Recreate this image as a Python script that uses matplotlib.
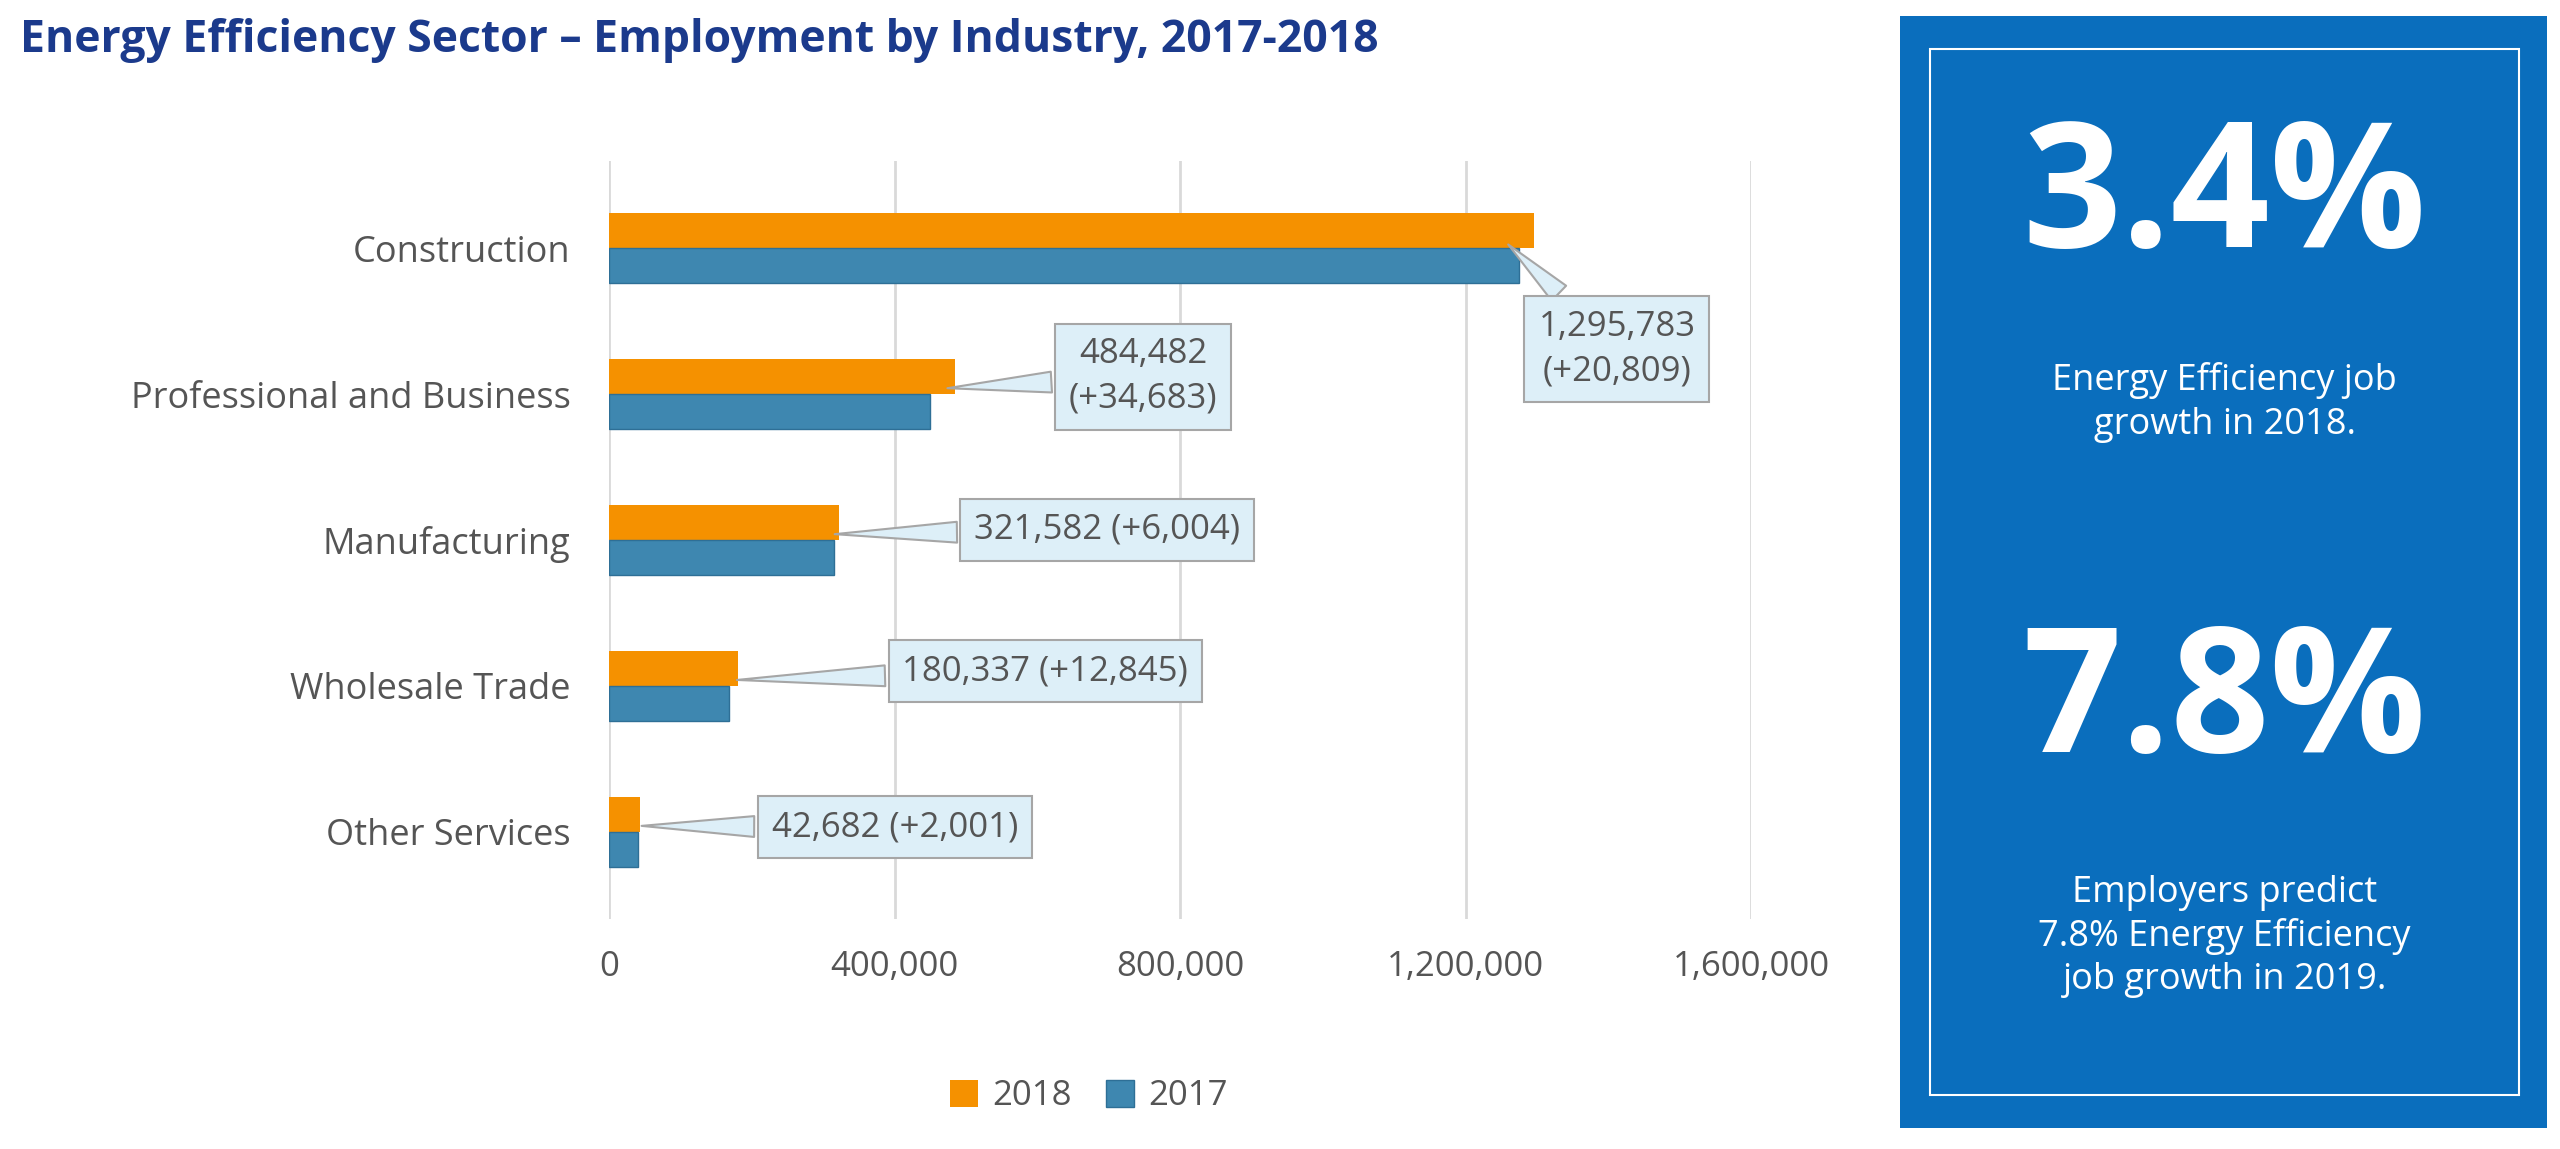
import numpy as np
import matplotlib.pyplot as plt
from matplotlib.patches import Rectangle

plt.rcParams['font.family'] = ['Open Sans', 'DejaVu Sans']

industries = ["Construction", "Professional and Business", "Manufacturing",
              "Wholesale Trade", "Other Services"]
jobs_2018 = [1295783, 484482, 321582, 180337, 42682]
growth = [20809, 34683, 6004, 12845, 2001]
jobs_2017 = [a - b for a, b in zip(jobs_2018, growth)]
labels = ["1,295,783\n(+20,809)", "484,482\n(+34,683)", "321,582 (+6,004)",
          "180,337 (+12,845)", "42,682 (+2,001)"]
box_pos = [(1412000, 0.69), (748000, 0.88), (698000, 1.93), (611000, 2.9), (400000, 3.97)]
xticks = [0, 400000, 800000, 1200000, 1600000]

orange = "#F59100"
blue = "#3E87B0"
txt = "#555555"

fig = plt.figure(figsize=(25.6, 11.49), dpi=100)
ax = fig.add_axes([0.238, 0.2, 0.446, 0.66])
y = np.arange(len(industries))
h = 0.24
ax.barh(y - h / 2, jobs_2018, height=h, color=orange, label="2018")
ax.barh(y + h / 2, jobs_2017, height=h, color=blue, edgecolor="#2E6F96", linewidth=1, label="2017")
ax.set_ylim(4.6, -0.6)
ax.set_xlim(0, 1600000)
ax.set_yticks(y)
ax.set_yticklabels(industries, fontsize=26, color=txt)
ax.set_xticks(xticks)
ax.set_xticklabels([f"{v:,}" for v in xticks], fontsize=25, color=txt)
ax.tick_params(length=0, pad=28)
ax.tick_params(axis='x', pad=22)
ax.grid(axis='x', color="#D9D9D9", linewidth=2)
ax.set_axisbelow(True)
for s in ax.spines.values():
    s.set_visible(False)

for i, (lab, (bx, by)) in enumerate(zip(labels, box_pos)):
    ax.annotate(lab, xy=(jobs_2018[i] * 0.97, i - h / 2 + 0.08), xytext=(bx, by),
                ha="center", va="center", fontsize=25, color=txt, linespacing=1.4,
                bbox=dict(boxstyle="square,pad=0.4", fc="#DDEFF8", ec="#A6A6A6", lw=1.5),
                arrowprops=dict(arrowstyle="wedge,tail_width=0.6,shrink_factor=0.5",
                                fc="#DDEFF8", ec="#A6A6A6", lw=1.5))

ax.legend(loc="upper center", bbox_to_anchor=(0.42, -0.17), ncol=2, frameon=False,
          fontsize=25, handlelength=0.8, handleheight=0.8, columnspacing=1.0,
          handletextpad=0.4, labelcolor=txt)

fig.text(0.008, 0.965, "Energy Efficiency Sector \u2013 Employment by Industry, 2017-2018",
         fontsize=32, fontweight="bold", color="#1B3A8C", va="center")

# right-hand panel
fig.patches.append(Rectangle((0.742, 0.018), 0.253, 0.968, transform=fig.transFigure,
                             fc="#0A6EBD", ec="none"))
fig.patches.append(Rectangle((0.754, 0.047), 0.23, 0.91, transform=fig.transFigure,
                             fc="none", ec="white", lw=1.5))
cx = 0.869
fig.text(cx, 0.825, "3.4%", fontsize=125, fontweight="bold", color="white", ha="center", va="center")
fig.text(cx, 0.65, "Energy Efficiency job\ngrowth in 2018.", fontsize=26, color="white",
         ha="center", va="center", linespacing=1.3)
fig.text(cx, 0.385, "7.8%", fontsize=125, fontweight="bold", color="white", ha="center", va="center")
fig.text(cx, 0.185, "Employers predict\n7.8% Energy Efficiency\njob growth in 2019.", fontsize=26,
         color="white", ha="center", va="center", linespacing=1.25)

fig.savefig("out.png", dpi=100)
